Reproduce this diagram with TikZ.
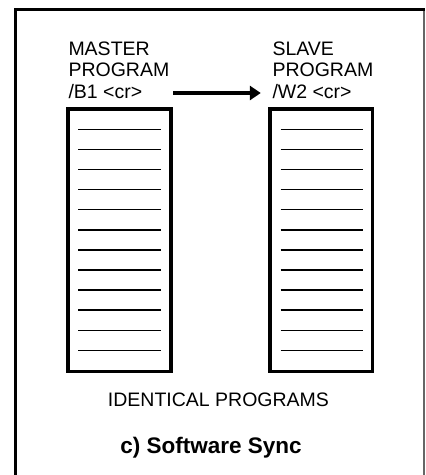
\documentclass[tikz,border=0pt]{standalone}
\usepackage{fontspec}
\setmainfont{Liberation Sans}
\usetikzlibrary{arrows.meta}
\begin{document}
\begin{tikzpicture}[x=1pt,y=-1pt,
  lbl/.style={inner sep=0pt, anchor=base west, align=left,
    font=\fontsize{19.5pt}{21.5pt}\selectfont},
  prog/.style={draw=black, line width=3.6pt, inner sep=0pt},
  rule/.style={line width=1.5pt},
  arr/.style={line width=3.2pt, -{Triangle[length=11pt,width=14pt]}},
  frame/.style={line width=3pt}]
\useasboundingbox (0,0) rectangle (426,475);
% frame (open at bottom)
\draw[frame] (15.5,475) -- (15.5,9.5) -- (424.5,9.5);
\draw[line width=1.6pt, black!60] (423.7,11) -- (423.7,475);
% labels
\node[lbl] (ml) at (68.3,98) {MASTER\\PROGRAM\\/B1 <cr>};
\node[lbl] (sl) at (272.3,98) {SLAVE\\PROGRAM\\/W2 <cr>};
% program boxes
\node[prog, minimum width=102.9pt, minimum height=262.7pt] (mp) at (119.25,240.15) {};
\node[prog, minimum width=102.3pt, minimum height=262.7pt] (sp) at (321.15,240.15) {};
\foreach \k in {0,...,11} {
  \draw[rule] (78,129.3+20.1*\k) -- (160.5,129.3+20.1*\k);
  \draw[rule] (280.5,129.3+20.1*\k) -- (363,129.3+20.1*\k);
}
% arrow from master label to slave label
\draw[arr] ([xshift=4pt]ml.east |- 0,93) -- ([xshift=-11.5pt]sl.west |- 0,93);
% captions
\node[inner sep=0pt, anchor=base, font=\fontsize{19.5pt}{21.5pt}\selectfont] (cap) at (218.5,406) {IDENTICAL PROGRAMS};
\node[inner sep=0pt, anchor=base, font=\fontsize{22.5pt}{24pt}\selectfont\bfseries] (title) at (211,453) {c) Software Sync};
\end{tikzpicture}
\end{document}
